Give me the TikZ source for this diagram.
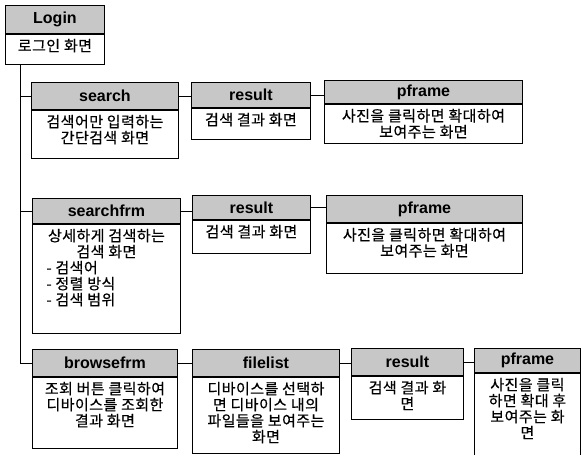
\documentclass[tikz,border=0pt]{standalone}
\usepackage{fontspec}
\newfontfamily\krf[LetterSpace=3,FakeBold=0.5]{Noto Sans CJK KR}
\newfontfamily\hdf{Liberation Sans}
\tikzset{
 hdr/.style={draw, line width=0.9pt, fill=black!22, inner sep=0pt, font=\hdf\fontsize{16}{18}\selectfont\bfseries, anchor=north west},
 bodyst/.style={draw, line width=0.9pt, fill=white, inner sep=0pt, anchor=north west},
 conn/.style={line width=0.8pt},
}
\newcommand\bx[8]{%
 \node[hdr, minimum width=#4, minimum height=#5] (#1h) at (#2,#3) {#7};
 \node[bodyst] (#1b) at (#1h.south west) {\parbox[t][#6pt][t]{#4pt}{\krf\fontsize{15}{16}\selectfont\centering\vspace{4.5pt}#8}};}
\begin{document}
\begin{tikzpicture}[x=1pt,y=-1pt]
\useasboundingbox (0,0) rectangle (581,455);
\bx{lg}{5}{5}{99}{28}{30}{Login}{로그인 화면}
\bx{sa}{31}{82}{147}{27}{48}{search}{검색어만 입력하는\\간단검색 화면}
\bx{ra}{191}{82}{119}{25}{31}{result}{검색 결과 화면}
\bx{pa}{324}{80}{198}{23}{39}{pframe}{사진을 클릭하면 확대하여\\보여주는 화면}
\bx{sf}{32}{198}{148}{25}{109}{searchfrm}{상세하게 검색하는\\검색 화면\par\raggedright\leftskip=14pt - 검색어\\- 정렬 방식\\- 검색 범위}
\bx{rb}{192}{195}{118}{24}{33}{result}{검색 결과 화면}
\bx{pb}{326}{195}{196}{27}{50}{pframe}{사진을 클릭하면 확대하여\\보여주는 화면}
\bx{bf}{32}{349}{145}{27}{71}{browsefrm}{조회 버튼 클릭하여\\디바이스를 조회한\\결과 화면}
\bx{fl}{192}{349}{147}{27}{76}{filelist}{디바이스를 선택하\\면 디바이스 내의\\파일들을 보여주는\\화면}
\bx{rc}{351}{348}{112}{27}{43}{result}{검색 결과 화\\면}
\bx{pc}{474}{348}{106}{24}{82}{pframe}{사진을 클릭\\하면 확대 후\\보여주는 화\\면}
% connectors
\coordinate (tr) at ([xshift=15pt]lgb.south west);
\draw[conn] (tr) |- (bfh.west);
\draw[conn] (sah.west) -- (sah.west -| tr);
\draw[conn] (sfh.west) -- (sfh.west -| tr);
\draw[conn] (sah.east) -- (sah.east -| rah.west);
\draw[conn] (rah.east) -- (rah.east -| pah.west);
\draw[conn] (sfh.east) -- (sfh.east -| rbh.west);
\draw[conn] (rbh.east) -- (rbh.east -| pbh.west);
\draw[conn] (bfh.east) -- (bfh.east -| flh.west);
\draw[conn] (flh.east) -- (flh.east -| rch.west);
\draw[conn] (rch.east) -- (rch.east -| pch.west);
\end{tikzpicture}
\end{document}
